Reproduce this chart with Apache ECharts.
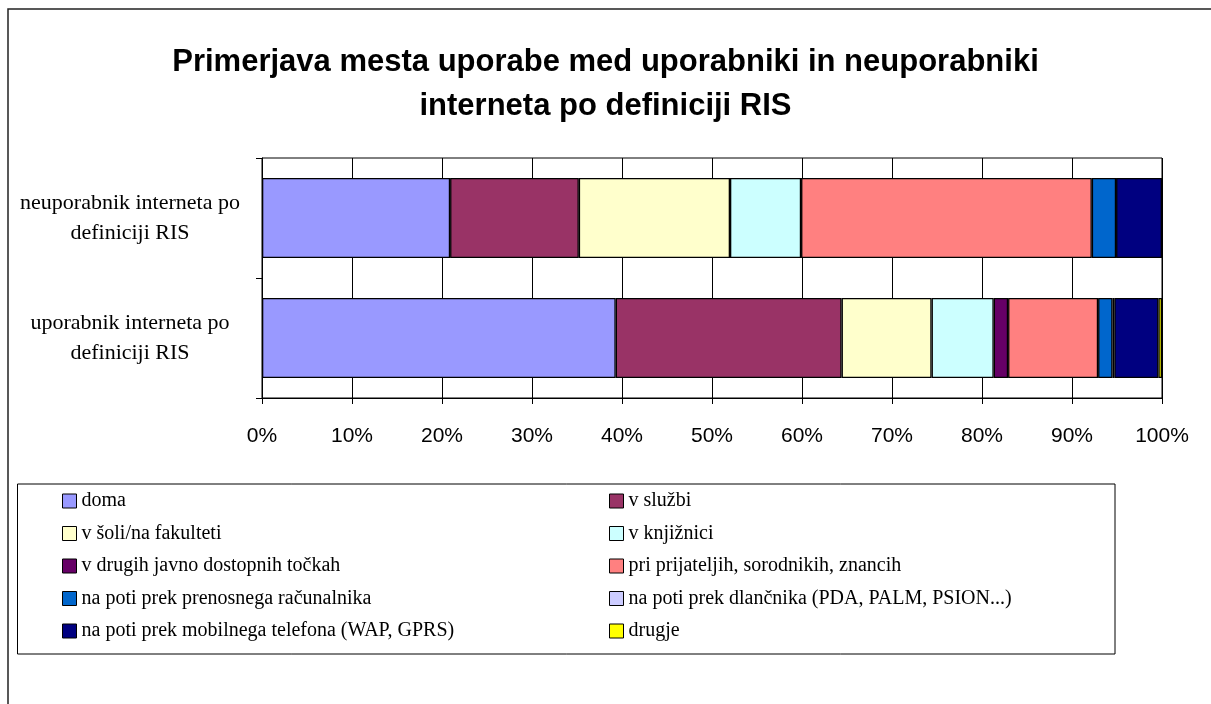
<!DOCTYPE html>
<html>
<head>
<meta charset="utf-8">
<script src="https://cdn.jsdelivr.net/npm/echarts@6/dist/echarts.min.js"></script>
<style>
  html, body { margin: 0; padding: 0; background: #fff; }
  #chart { width: 1211px; height: 704px; }
</style>
</head>
<body>
<div id="chart"></div>
<script>
// categories, bottom to top
var categories = ['uporabnik interneta po definiciji RIS', 'neuporabnik interneta po definiciji RIS'];

var seriesNames = [
    'doma',
    'v službi',
    'v šoli/na fakulteti',
    'v knjižnici',
    'v drugih javno dostopnih točkah',
    'pri prijateljih, sorodnikih, znancih',
    'na poti prek prenosnega računalnika',
    'na poti prek dlančnika (PDA, PALM, PSION...)',
    'na poti prek mobilnega telefona (WAP, GPRS)',
    'drugje'
];

var seriesColors = ['#9999FF', '#993366', '#FFFFCC', '#CCFFFF', '#660066',
                    '#FF8080', '#0066CC', '#CCCCFF', '#000080', '#FFFF00'];

// shares in %
var uporabnikValues = [39.3, 25.1, 10.0, 6.9, 1.6, 10.0, 1.6, 0.2, 4.9, 0.4];
var neuporabnikValues = [20.9, 14.3, 16.8, 7.9, 0, 32.3, 2.7, 0, 5.1, 0];

var xTicks = [0, 10, 20, 30, 40, 50, 60, 70, 80, 90, 100];

var legendLeft = [seriesNames[0], seriesNames[2], seriesNames[4], seriesNames[6], seriesNames[8]];
var legendRight = [seriesNames[1], seriesNames[3], seriesNames[5], seriesNames[7], seriesNames[9]];

var chartDom = document.getElementById('chart');
var myChart = echarts.init(chartDom);

var series = seriesNames.map(function (name, i) {
    return {
        name: name,
        type: 'bar',
        stack: 'total',
        barWidth: 80,
        data: [uporabnikValues[i], neuporabnikValues[i]],
        itemStyle: {
            color: seriesColors[i],
            borderColor: '#000',
            borderWidth: 1.3
        },
        emphasis: { disabled: true }
    };
});

var legendBase = {
    orient: 'vertical',
    top: 491,
    padding: 0,
    itemGap: 12.5,
    itemWidth: 14,
    itemHeight: 14,
    icon: 'rect',
    selectedMode: false,
    itemStyle: { borderColor: '#000', borderWidth: 1 },
    textStyle: {
        fontFamily: 'Liberation Serif',
        fontSize: 20,
        lineHeight: 20,
        color: '#000'
    }
};

var option = {
    animation: false,
    backgroundColor: '#fff',
    title: {
        text: 'Primerjava mesta uporabe med uporabniki in neuporabniki\ninterneta po definiciji RIS',
        left: 'center',
        top: 35,
        textStyle: {
            fontFamily: 'Liberation Sans',
            fontWeight: 'bold',
            fontSize: 31,
            lineHeight: 44,
            color: '#000'
        }
    },
    graphic: [
        {
            type: 'rect',
            shape: { x: 8, y: 9, width: 1400, height: 900 },
            style: { fill: 'none', stroke: '#222', lineWidth: 1.5 },
            silent: true
        },
        {
            type: 'rect',
            shape: { x: 17.5, y: 484, width: 1097.5, height: 170 },
            style: { fill: 'none', stroke: '#000', lineWidth: 1 },
            silent: true
        }
    ],
    legend: [
        Object.assign({}, legendBase, { left: 62, data: legendLeft }),
        Object.assign({}, legendBase, { left: 609, data: legendRight })
    ],
    grid: {
        left: 262,
        right: 49,
        top: 158,
        bottom: 306,
        show: true,
        borderColor: '#000',
        borderWidth: 1
    },
    xAxis: {
        type: 'value',
        min: xTicks[0],
        max: xTicks[xTicks.length - 1],
        interval: 10,
        axisLine: { show: true, lineStyle: { color: '#000', width: 1 } },
        axisTick: { show: true, length: 6, lineStyle: { color: '#000' } },
        splitLine: { show: true, lineStyle: { color: '#000', width: 1 } },
        axisLabel: {
            formatter: '{value}%',
            margin: 28,
            fontFamily: 'Liberation Sans',
            fontSize: 21,
            color: '#000'
        }
    },
    yAxis: {
        type: 'category',
        data: categories,
        axisLine: { show: true, lineStyle: { color: '#000', width: 1 } },
        axisTick: { show: true, length: 6, lineStyle: { color: '#000' } },
        splitLine: { show: false },
        axisLabel: {
            formatter: function (v) { return v.replace(' po ', ' po\n'); },
            align: 'center',
            margin: 132,
            fontFamily: 'Liberation Serif',
            fontSize: 22,
            lineHeight: 30,
            color: '#000'
        }
    },
    series: series
};

option && myChart.setOption(option);
</script>
</body>
</html>
